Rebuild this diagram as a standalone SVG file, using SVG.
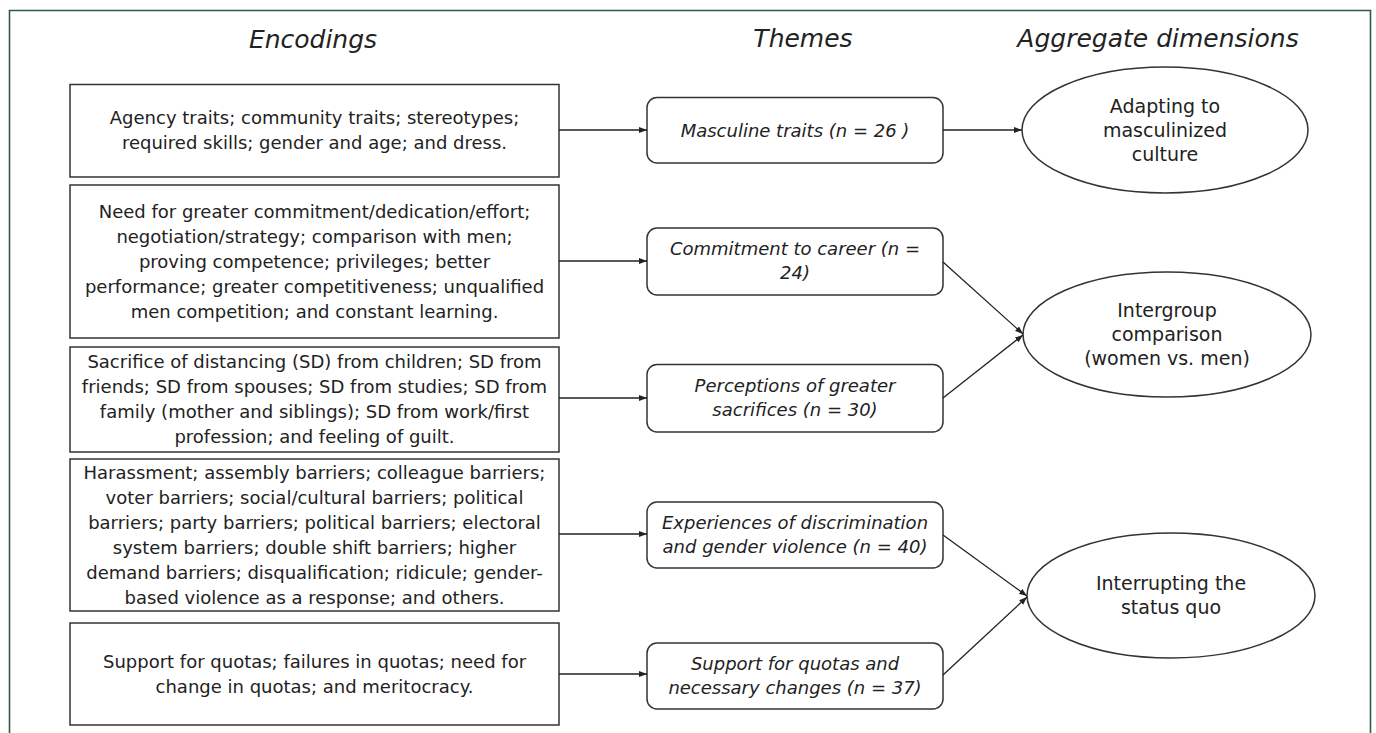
<svg xmlns="http://www.w3.org/2000/svg" width="1376" height="733" viewBox="0 0 1376 733">
<style>
.frame{fill:none;stroke:#2f5a49;stroke-width:1.6}
.enc rect{fill:#fff;stroke:#333;stroke-width:1.5}
.enc text{font-family:"DejaVu Sans","Liberation Sans",sans-serif;font-size:18px;fill:#222;text-anchor:middle}
.thm rect{fill:#fff;stroke:#333;stroke-width:1.5}
.thm text{font-family:"DejaVu Sans","Liberation Sans",sans-serif;font-size:18px;font-style:italic;fill:#222;text-anchor:middle}
.dim ellipse{fill:#fff;stroke:#333;stroke-width:1.5}
.dim text{font-family:"DejaVu Sans","Liberation Sans",sans-serif;font-size:19px;fill:#222;text-anchor:middle}
.title{font-family:"DejaVu Sans","Liberation Sans",sans-serif;font-size:25px;font-style:italic;fill:#222;text-anchor:middle}
#connectors line{stroke:#222;stroke-width:1.3;marker-end:url(#arr)}
</style>
<defs>
<marker id="arr" markerUnits="userSpaceOnUse" markerWidth="9" markerHeight="7" refX="8" refY="3" orient="auto">
<path d="M0,0 L8,3 L0,6 z" fill="#222"/>
</marker>
</defs>
<rect width="1376" height="733" fill="#fff"/>
<path class="frame" d="M9.5,733 V10.5 H1370.5 V733"/>
<g id="titles">
<text class="title" x="313" y="48">Encodings</text>
<text class="title" x="803" y="47">Themes</text>
<text class="title" x="1158" y="47">Aggregate dimensions</text>
</g>
<g id="enc1" class="enc">
<rect x="70" y="84.5" width="489" height="92.5"/>
<text x="314.5" y="124">Agency traits; community traits; stereotypes;</text>
<text x="314.5" y="149">required skills; gender and age; and dress.</text>
</g>
<g id="enc2" class="enc">
<rect x="70" y="185" width="489" height="153"/>
<text x="314.5" y="217.5">Need for greater commitment/dedication/effort;</text>
<text x="314.5" y="242.5">negotiation/strategy; comparison with men;</text>
<text x="314.5" y="267.5">proving competence; privileges; better</text>
<text x="314.5" y="292.5">performance; greater competitiveness; unqualified</text>
<text x="314.5" y="317.5">men competition; and constant learning.</text>
</g>
<g id="enc3" class="enc">
<rect x="70" y="347" width="489" height="105"/>
<text x="314.5" y="368">Sacrifice of distancing (SD) from children; SD from</text>
<text x="314.5" y="393">friends; SD from spouses; SD from studies; SD from</text>
<text x="314.5" y="418">family (mother and siblings); SD from work/first</text>
<text x="314.5" y="443">profession; and feeling of guilt.</text>
</g>
<g id="enc4" class="enc">
<rect x="70" y="459" width="489" height="152"/>
<text x="314.5" y="479">Harassment; assembly barriers; colleague barriers;</text>
<text x="314.5" y="504">voter barriers; social/cultural barriers; political</text>
<text x="314.5" y="529">barriers; party barriers; political barriers; electoral</text>
<text x="314.5" y="554">system barriers; double shift barriers; higher</text>
<text x="314.5" y="579">demand barriers; disqualification; ridicule; gender-</text>
<text x="314.5" y="604">based violence as a response; and others.</text>
</g>
<g id="enc5" class="enc">
<rect x="70" y="623" width="489" height="102"/>
<text x="314.5" y="668">Support for quotas; failures in quotas; need for</text>
<text x="314.5" y="693">change in quotas; and meritocracy.</text>
</g>
<g id="theme1" class="thm">
<rect x="647" y="97.5" width="296" height="65.5" rx="10"/>
<text x="795" y="136.5">Masculine traits (n = 26 )</text>
</g>
<g id="theme2" class="thm">
<rect x="647" y="228" width="296" height="67" rx="10"/>
<text x="795" y="255">Commitment to career (n =</text>
<text x="795" y="279">24)</text>
</g>
<g id="theme3" class="thm">
<rect x="647" y="364.5" width="296" height="67.5" rx="10"/>
<text x="795" y="392">Perceptions of greater</text>
<text x="795" y="416">sacrifices (n = 30)</text>
</g>
<g id="theme4" class="thm">
<rect x="647" y="502" width="296" height="66" rx="10"/>
<text x="795" y="529">Experiences of discrimination</text>
<text x="795" y="553">and gender violence (n = 40)</text>
</g>
<g id="theme5" class="thm">
<rect x="647" y="643" width="296" height="66" rx="10"/>
<text x="795" y="670">Support for quotas and</text>
<text x="795" y="694">necessary changes (n = 37)</text>
</g>
<g id="dim1" class="dim">
<ellipse cx="1165" cy="130" rx="143" ry="63"/>
<text x="1165" y="112.5">Adapting to</text>
<text x="1165" y="136.5">masculinized</text>
<text x="1165" y="160.5">culture</text>
</g>
<g id="dim2" class="dim">
<ellipse cx="1167" cy="334.5" rx="144" ry="62.5"/>
<text x="1167" y="317">Intergroup</text>
<text x="1167" y="341">comparison</text>
<text x="1167" y="365">(women vs. men)</text>
</g>
<g id="dim3" class="dim">
<ellipse cx="1171" cy="595.5" rx="144" ry="62.5"/>
<text x="1171" y="590">Interrupting the</text>
<text x="1171" y="614">status quo</text>
</g>
<g id="connectors">
<line x1="559" y1="130" x2="647" y2="130"/>
<line x1="559" y1="261" x2="647" y2="261"/>
<line x1="559" y1="398" x2="647" y2="398"/>
<line x1="559" y1="534" x2="647" y2="534"/>
<line x1="559" y1="674" x2="647" y2="674"/>
<line x1="943" y1="130" x2="1022" y2="130"/>
<line x1="943" y1="262" x2="1023" y2="334"/>
<line x1="943" y1="398" x2="1023" y2="335"/>
<line x1="943" y1="535" x2="1027" y2="596"/>
<line x1="943" y1="675" x2="1027" y2="597"/>
</g>
</svg>
